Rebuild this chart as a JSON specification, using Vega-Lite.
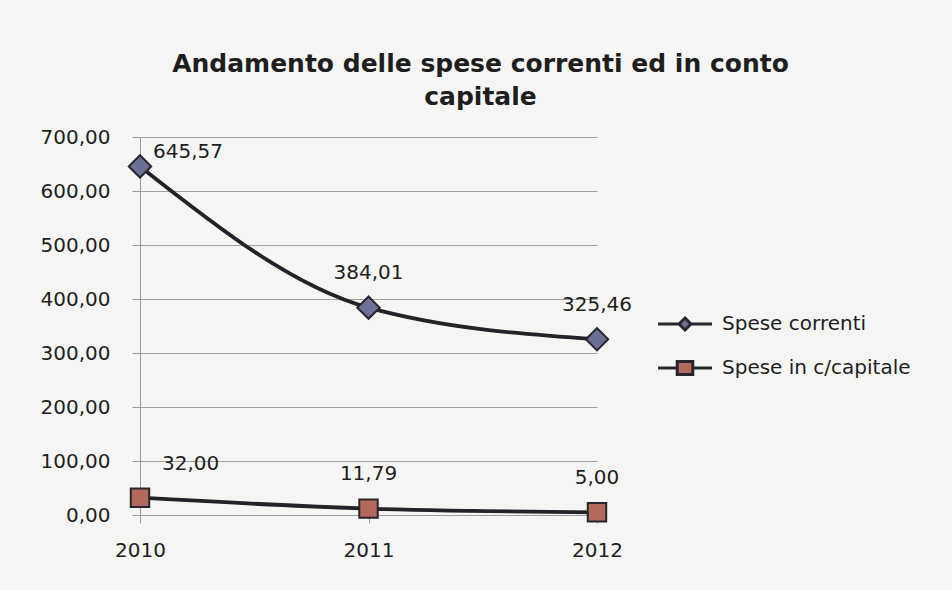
{
  "$schema": "https://vega.github.io/schema/vega-lite/v6.json",
  "autosize": {"type": "none"},
  "width": 457,
  "height": 378,
  "padding": {"left": 140, "top": 137, "right": 355, "bottom": 75},
  "background": "#f5f6f3",
  "config": {
    "locale": {"number": {"decimal": ",", "thousands": ".", "grouping": [3], "currency": ["€", ""]}},
    "view": {"stroke": null},
    "font": "DejaVu Sans",
    "legend": {
      "orient": "none", "legendX": 535, "legendY": 177,
      "labelFontSize": 20, "labelFont": "DejaVu Sans", "labelColor": "#1e1e1e", "labelLimit": 400,
      "symbolSize": 144, "symbolStrokeWidth": 3, "labelOffset": 27, "rowPadding": 19
    }
  },
  "title": {
    "text": ["Andamento delle spese correnti ed in conto", "capitale"],
    "font": "DejaVu Sans",
    "fontSize": 25,
    "fontWeight": "bold",
    "color": "#1e1e1e",
    "anchor": "middle",
    "dx": 112,
    "offset": 17,
    "lineHeight": 33
  },
  "data": {
    "values": [
      {"year": "2010", "series": "Spese correnti", "value": 645.57},
      {"year": "2011", "series": "Spese correnti", "value": 384.01},
      {"year": "2012", "series": "Spese correnti", "value": 325.46},
      {"year": "2010", "series": "Spese in c/capitale", "value": 32.0},
      {"year": "2011", "series": "Spese in c/capitale", "value": 11.79},
      {"year": "2012", "series": "Spese in c/capitale", "value": 5.0}
    ]
  },
  "encoding": {
    "x": {
      "field": "year", "type": "ordinal",
      "scale": {"type": "point", "padding": 0},
      "axis": {
        "title": null, "labelAngle": 0, "labelFontSize": 20, "labelColor": "#1e1e1e",
        "labelFont": "DejaVu Sans", "domainColor": "#9a9a9a", "tickColor": "#9a9a9a",
        "tickSize": 8, "labelPadding": 17, "grid": false
      }
    },
    "y": {
      "field": "value", "type": "quantitative",
      "scale": {"domain": [0, 700], "nice": false},
      "axis": {
        "title": null, "values": [0, 100, 200, 300, 400, 500, 600, 700], "format": ".2f",
        "labelFontSize": 20, "labelColor": "#1e1e1e", "labelFont": "DejaVu Sans",
        "domainColor": "#9a9a9a", "tickColor": "#9a9a9a", "tickSize": 8, "labelPadding": 22,
        "grid": true, "gridColor": "#a0a0a0", "gridWidth": 1
      }
    }
  },
  "layer": [
    {
      "mark": {"type": "point", "filled": true, "opacity": 1, "stroke": "#26262c", "strokeWidth": 3, "size": 1},
      "encoding": {
        "shape": {
          "field": "series", "type": "nominal",
          "scale": {
            "domain": ["Spese correnti", "Spese in c/capitale"],
            "range": ["M-4.5,0H-1M1,0H4.5M0,-1L1,0L0,1L-1,0Z", "M-4.5,0H-1.3M1.3,0H4.5M-1.3,-1.1H1.3V1.1H-1.3Z"]
          },
          "legend": {"title": null}
        },
        "fill": {
          "field": "series", "type": "nominal",
          "scale": {"domain": ["Spese correnti", "Spese in c/capitale"], "range": ["#6b7196", "#b5695a"]},
          "legend": {"title": null}
        }
      }
    },
    {
      "mark": {"type": "line", "interpolate": "monotone", "strokeWidth": 3.8, "color": "#222228"},
      "encoding": {"detail": {"field": "series"}}
    },
    {
      "transform": [{"filter": "datum.series === 'Spese correnti'"}],
      "mark": {"type": "point", "shape": "diamond", "filled": true, "opacity": 1, "fill": "#6b7196", "stroke": "#26262c", "strokeWidth": 2, "size": 500}
    },
    {
      "transform": [{"filter": "datum.series !== 'Spese correnti'"}],
      "mark": {"type": "point", "shape": "square", "filled": true, "opacity": 1, "fill": "#b5695a", "stroke": "#26262c", "strokeWidth": 2, "size": 340}
    },
    {
      "transform": [{"filter": "datum.year === '2011'"}],
      "mark": {"type": "text", "fontSize": 20, "font": "DejaVu Sans", "color": "#1e1e1e", "dy": -35, "baseline": "middle"},
      "encoding": {"text": {"field": "value", "type": "quantitative", "format": ".2f"}}
    },
    {
      "transform": [{"filter": "datum.year === '2012'"}],
      "mark": {"type": "text", "fontSize": 20, "font": "DejaVu Sans", "color": "#1e1e1e", "dy": -34, "baseline": "middle"},
      "encoding": {"text": {"field": "value", "type": "quantitative", "format": ".2f"}}
    },
    {
      "transform": [{"filter": "datum.year === '2010' && datum.series === 'Spese correnti'"}],
      "mark": {"type": "text", "fontSize": 20, "font": "DejaVu Sans", "color": "#1e1e1e", "dy": -14, "dx": 13, "align": "left", "baseline": "middle"},
      "encoding": {"text": {"field": "value", "type": "quantitative", "format": ".2f"}}
    },
    {
      "transform": [{"filter": "datum.year === '2010' && datum.series !== 'Spese correnti'"}],
      "mark": {"type": "text", "fontSize": 20, "font": "DejaVu Sans", "color": "#1e1e1e", "dy": -34, "dx": 22, "align": "left", "baseline": "middle"},
      "encoding": {"text": {"field": "value", "type": "quantitative", "format": ".2f"}}
    }
  ]
}
